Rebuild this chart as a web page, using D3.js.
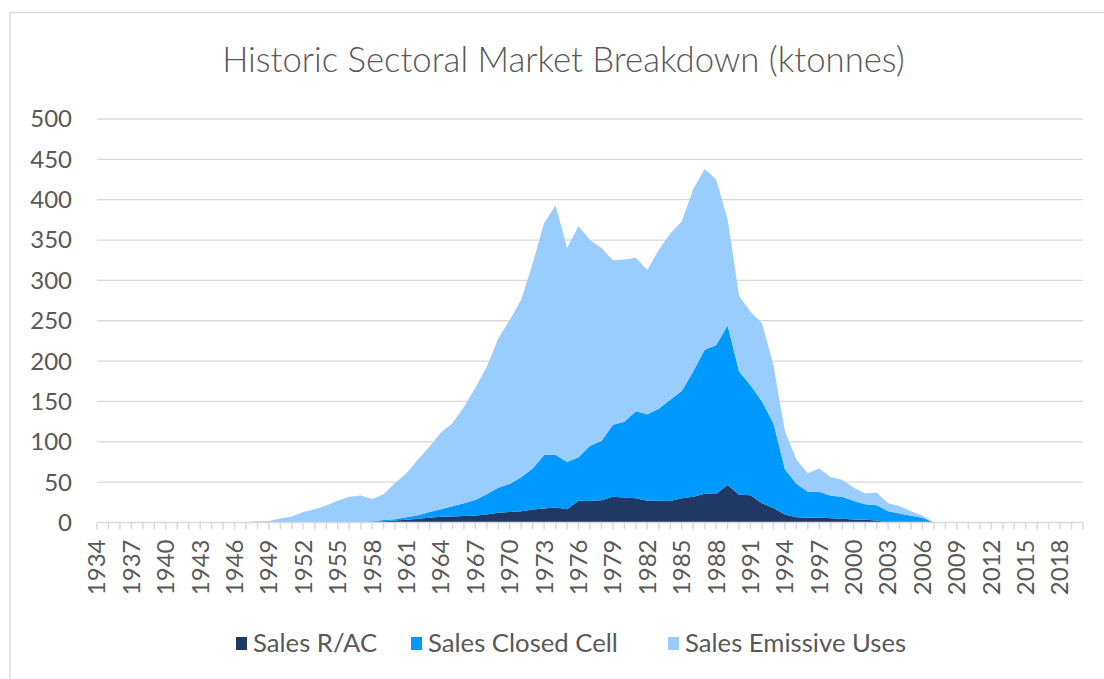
<!DOCTYPE html>
<html>
<head>
<meta charset="utf-8">
<script src="https://cdn.jsdelivr.net/npm/d3@7"></script>
<style>
  html, body { margin: 0; padding: 0; background: #fff; }
  svg { display: block; font-family: Lato, "Open Sans", sans-serif; }
</style>
</head>
<body>
<svg id="chart" width="1104" height="679"></svg>
<script>
// Historic sectoral market breakdown, ktonnes per year (stacked area)
const years = d3.range(1934, 2021);          // 1934..2020 categories
const labelYears = d3.range(1934, 2019, 3);  // every third year labelled
const yTicks = d3.range(0, 501, 50);
const seriesNames = ["Sales R/AC", "Sales Closed Cell", "Sales Emissive Uses"];
const seriesColors = ["#1F3864", "#0099FF", "#99CCFF"];

// 1934..2020
const salesRAC = [
  0,0,0,0,0,0,0,0,0,0, 0,0,0,0,0,0,0,0,0,0, 0,0,0,           // 1934-1956
  0.5,1,1.5,2.5,3.5,4.5,6,7,7.5,8,                             // 1957-1966
  8.7,10,12,13,14,16,17.4,18.6,16.5,27,                        // 1967-1976
  26.5,27.7,32,31,30,27,27,26.5,30,32,                         // 1977-1986
  35.5,35.3,46.5,34.5,33.7,24,18,10,6.6,5.8,                   // 1987-1996
  6.2,5.3,4.5,3.7,3.3,2.5,                                     // 1997-2002
  0,0,0,0,0,0,0,0,0,0, 0,0,0,0,0,0,0,0                         // 2003-2020
];
const salesClosedCell = [
  0,0,0,0,0,0,0,0,0,0, 0,0,0,0,0,0,0,0,0,0, 0,0,0,           // 1934-1956
  0,0.5,1.5,1.5,3,4.5,7,9.5,12.5,16,                           // 1957-1966
  19.3,25,31,35,42,51,66.1,65.4,58.5,54,                       // 1967-1976
  68.5,73.3,89,94,108,107,114,125.5,133,155,                   // 1977-1986
  178.5,184.2,197.5,152.5,136.3,126,105,56,41.4,32.2,          // 1987-1996
  31.8,27.7,27.5,22.8,19.2,19,14,11,8.5,6,                     // 1997-2006
  0,0,0,0,0,0,0,0,0,0, 0,0,0,0                                 // 2007-2020
];
const salesEmissive = [
  0,0,0,0,0,0,0,0,0,0, 0,0,0,                                  // 1934-1946
  0.5,1.5,2,5,7.5,13,16.5,21,27,32,                            // 1947-1956
  33,27.5,32,45,54.5,69,81,95,103,119,                         // 1957-1966
  139,158,185,203,220,254,287.5,309,265,286,                   // 1967-1976
  255,239,204,201,190,179,197,206,210,226,                     // 1977-1986
  224,205.5,132,94,91,97,72,47,30,23,                          // 1987-1996
  29,23,21,16.5,13.5,15.5,10,9,5.5,2.5,                        // 1997-2006
  0,0,0,0,0,0,0,0,0,0, 0,0,0,0                                 // 2007-2020
];

const svg = d3.select("#chart");
const W = 1104, H = 679;
const plot = { left: 97, right: 1083, top: 119, bottom: 522.5 };
const textColor = "#595959", gridColor = "#D9D9D9";

// chart area border (right/bottom edges cropped off in the reference)
svg.append("rect")
  .attr("x", 10).attr("y", 12.5).attr("width", W + 20).attr("height", H + 20)
  .attr("fill", "#fff").attr("stroke", gridColor).attr("stroke-width", 1.5);

const x = d3.scaleLinear().domain([years[0], years[years.length - 1]]).range([plot.left, plot.right]);
const y = d3.scaleLinear().domain([0, 500]).range([plot.bottom, plot.top]);

// gridlines
svg.append("g").selectAll("line").data(yTicks.filter(d => d > 0)).join("line")
  .attr("x1", plot.left).attr("x2", plot.right)
  .attr("y1", d => y(d)).attr("y2", d => y(d))
  .attr("stroke", gridColor).attr("stroke-width", 1.3);

// stacked areas
const rows = years.map((yr, i) => ({ year: yr, rac: salesRAC[i], closed: salesClosedCell[i], emissive: salesEmissive[i] }));
const stack = d3.stack().keys(["rac", "closed", "emissive"])(rows);
const area = d3.area()
  .x(d => x(d.data.year))
  .y0(d => y(d[0]))
  .y1(d => y(d[1]));
svg.append("g").selectAll("path").data(stack).join("path")
  .attr("d", area)
  .attr("fill", (d, i) => seriesColors[i]);

// y axis labels
svg.append("g").selectAll("text").data(yTicks).join("text")
  .attr("x", 72).attr("y", d => y(d)).attr("dy", "0.35em")
  .attr("text-anchor", "end").attr("fill", textColor).attr("font-size", 24)
  .text(d => d);

// x axis line + ticks
const xAxis = svg.append("g");
xAxis.append("line")
  .attr("x1", plot.left).attr("x2", plot.right)
  .attr("y1", plot.bottom).attr("y2", plot.bottom)
  .attr("stroke", gridColor).attr("stroke-width", 1.5);
xAxis.selectAll("line.tick").data(years).join("line").attr("class", "tick")
  .attr("x1", d => x(d)).attr("x2", d => x(d))
  .attr("y1", plot.bottom).attr("y2", plot.bottom + 7)
  .attr("stroke", gridColor).attr("stroke-width", 1.5);
xAxis.selectAll("text").data(labelYears).join("text")
  .attr("transform", d => `translate(${x(d)},${plot.bottom + 17}) rotate(-90)`)
  .attr("dy", "0.35em").attr("text-anchor", "end")
  .attr("fill", textColor).attr("font-size", 24)
  .text(d => d);

// title, fitted to the reference width
const title = svg.append("text")
  .attr("x", 563.5).attr("y", 72).attr("text-anchor", "middle")
  .attr("fill", textColor).attr("font-size", 30).attr("font-weight", 300)
  .text("Historic Sectoral Market Breakdown (ktonnes)");
const tw = title.node().getComputedTextLength();
title.attr("font-size", 30 * 683 / tw);

// legend
const legendX = [236, 411, 668];
const legend = svg.append("g").selectAll("g").data(seriesNames).join("g")
  .attr("transform", (d, i) => `translate(${legendX[i]},0)`);
legend.append("rect")
  .attr("x", 0).attr("y", 637).attr("width", 11).attr("height", 13)
  .attr("fill", (d, i) => seriesColors[i]);
legend.append("text")
  .attr("x", 17).attr("y", 643.5).attr("dy", "0.35em")
  .attr("fill", textColor).attr("font-size", 25.7)
  .text(d => d);
</script>
</body>
</html>
